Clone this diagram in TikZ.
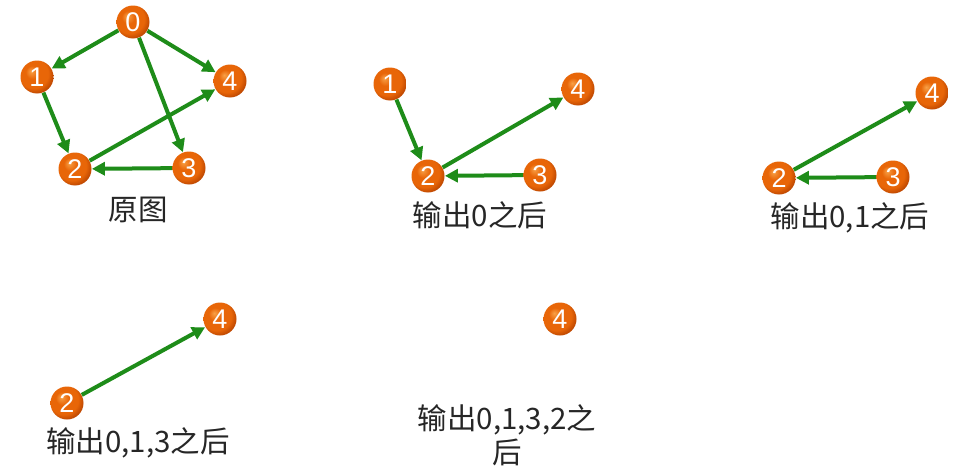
\documentclass[tikz,border=0pt]{standalone}
\usepackage{fontspec}
\setmainfont{Liberation Sans}
\newfontfamily\cjk{Noto Sans CJK SC}
\usetikzlibrary{arrows.meta,backgrounds}

\definecolor{arcgreen}{RGB}{30,140,25}
\definecolor{ballorange}{RGB}{232,102,8}
\definecolor{balllight}{RGB}{248,160,70}
\definecolor{balldark}{RGB}{185,68,0}

\pgfdeclareradialshading{orangeball}{\pgfpoint{-9bp}{9bp}}{%
	color(0bp)=(balllight); color(10bp)=(ballorange); color(22bp)=(ballorange);
	color(30bp)=(balldark); color(50bp)=(balldark)}

\begin{document}
\begin{tikzpicture} [x=1pt,y=-1pt,thick,>={Triangle[length=13pt,width=13pt]},
		vertex/.style={circle,shading=orangeball,minimum size=33pt,inner sep=0pt,
			text=white,font=\fontsize{27}{27}\selectfont},
		arc/.style={->,draw=arcgreen,fill=arcgreen,line width=4pt},
		caption/.style={font=\cjk\fontsize{29.5}{34}\selectfont,align=center,text=black!85}]

	\useasboundingbox [fill=white] (0,0) rectangle (975,471);

	% original graph
	\node [vertex] (a-0) at (133,22) {0};
	\node [vertex] (a-1) at (37,77) {1};
	\node [vertex] (a-4) at (230,81) {4};
	\node [vertex] (a-2) at (75,169) {2};
	\node [vertex] (a-3) at (189,168) {3};
	\node [caption] (cap-a) at (138,210) {原图};
	\draw [arc] (a-0) -- (a-1);
	\draw [arc] (a-0) -- (a-4);
	\draw [arc] (a-0) -- (a-3);
	\draw [arc] (a-1) -- (a-2);
	\draw [arc] (a-2) -- (a-4);
	\draw [arc] (a-3) -- (a-2);

	% after 0
	\node [vertex] (b-1) at (390,84) {1};
	\node [vertex] (b-4) at (578,89) {4};
	\node [vertex] (b-2) at (428,176) {2};
	\node [vertex] (b-3) at (540,175) {3};
	\node [caption] (cap-b) at (480,215) {输出0之后};
	\draw [arc] (b-1) -- (b-2);
	\draw [arc] (b-2) -- (b-4);
	\draw [arc] (b-3) -- (b-2);

	% after 0,1
	\node [vertex] (c-4) at (932,93) {4};
	\node [vertex] (c-2) at (779,178) {2};
	\node [vertex] (c-3) at (893,177) {3};
	\node [caption] (cap-c) at (850,218) {输出0,1之后};
	\draw [arc] (c-2) -- (c-4);
	\draw [arc] (c-3) -- (c-2);

	% after 0,1,3
	\node [vertex] (d-4) at (220,319) {4};
	\node [vertex] (d-2) at (67,403) {2};
	\node [caption] (cap-d) at (138,443) {输出0,1,3之后};
	\draw [arc] (d-2) -- (d-4);

	% after 0,1,3,2
	\node [vertex] (e-4) at (560,319) {4};
	\node [caption] (cap-e) at (507,435) {输出0,1,3,2之\\后};
\end{tikzpicture}
\end{document}
